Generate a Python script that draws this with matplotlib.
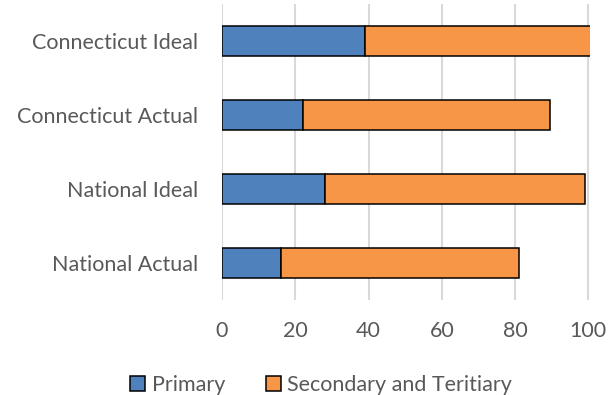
import matplotlib
matplotlib.use("Agg")
import matplotlib.pyplot as plt
from matplotlib.patches import Patch

categories = ["National Actual", "National Ideal", "Connecticut Actual", "Connecticut Ideal"]
primary = [16, 28, 22, 39]
secondary = [65, 71, 67.5, 62]
series_names = ["Primary", "Secondary and Teritiary"]
xticks = [0, 20, 40, 60, 80, 100]

plt.rcParams['font.family'] = ['Lato', 'DejaVu Sans']
txt = '#595959'
blue = '#4f81bd'
orange = '#f79646'

fig = plt.figure(figsize=(6.14, 3.95), dpi=100)
ax = fig.add_axes([0.3616, 0.2405, 0.9617 - 0.3616, 0.99 - 0.2405])

y = range(len(categories))
ax.barh(y, primary, height=0.4, color=blue, edgecolor='black', linewidth=1.1, zorder=3)
ax.barh(y, secondary, left=primary, height=0.4, color=orange, edgecolor='black', linewidth=1.1, zorder=3)

ax.set_xlim(0, 100.6)
ax.set_ylim(-0.5, 3.5)
ax.set_xticks(xticks)
ax.set_xticklabels([str(t) for t in xticks])
ax.set_yticks(list(y))
ax.set_yticklabels(categories)
ax.tick_params(axis='both', length=0, labelsize=15.5, colors=txt)
ax.tick_params(axis='x', pad=15)
ax.tick_params(axis='y', pad=17)
for s in ax.spines.values():
    s.set_visible(False)
ax.grid(axis='x', color='#d9d9d9', linewidth=1.5, zorder=0)
ax.set_axisbelow(True)

handles = [Patch(facecolor=blue, edgecolor='black', linewidth=1.1),
           Patch(facecolor=orange, edgecolor='black', linewidth=1.1)]
leg = fig.legend(handles, series_names, loc='center', bbox_to_anchor=(0.523, 0.026),
                 ncol=2, frameon=False, fontsize=15.5, handlelength=0.7, handleheight=0.7,
                 handletextpad=0.3, columnspacing=1.9)
for t in leg.get_texts():
    t.set_color(txt)

fig.savefig("out.png", dpi=100)
